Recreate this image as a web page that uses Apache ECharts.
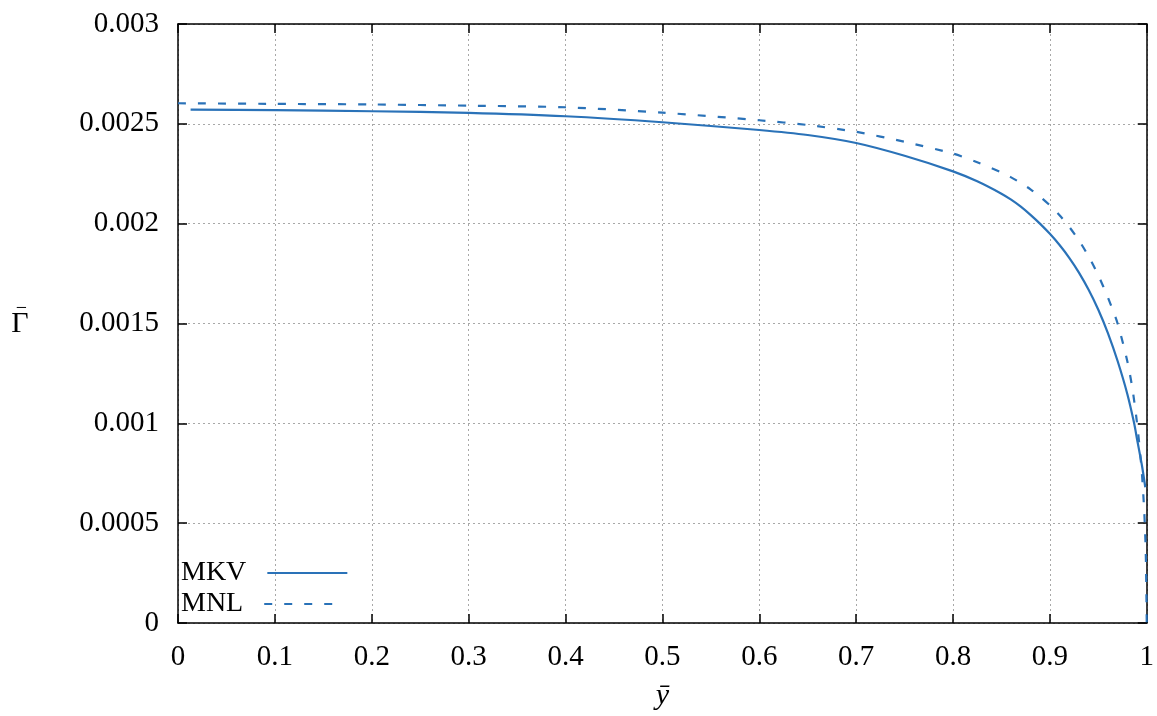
<!DOCTYPE html>
<html>
<head>
<meta charset="utf-8">
<script src="https://cdn.jsdelivr.net/npm/echarts@6/dist/echarts.min.js"></script>
<style>html,body{margin:0;padding:0;background:#fff}#c{width:1157px;height:716px}</style>
</head>
<body>
<div id="c"></div>
<script>
const seriesNames = ['MKV', 'MNL'];
const mkvX = [0.013, 0.1, 0.2, 0.3, 0.4, 0.5, 0.6, 0.65, 0.7, 0.75, 0.8, 0.825, 0.85, 0.86, 0.87, 0.88, 0.89, 0.9, 0.91, 0.92, 0.93, 0.94, 0.95, 0.96, 0.97, 0.98, 0.987, 0.99, 0.995, 0.9985];
const mkvY = [0.002571, 0.002569, 0.002563, 0.002555, 0.002538, 0.002508, 0.002469, 0.002444, 0.002404, 0.00234, 0.002262, 0.002212, 0.00215, 0.00212, 0.002085, 0.002044, 0.001999, 0.001949, 0.001893, 0.001829, 0.001755, 0.001669, 0.001569, 0.001451, 0.001311, 0.001146, 0.001, 0.00092, 0.00079, 0.00068];
const mnlX = [0, 0.1, 0.2, 0.3, 0.4, 0.5, 0.6, 0.65, 0.7, 0.75, 0.8, 0.825, 0.85, 0.86, 0.87, 0.88, 0.89, 0.9, 0.91, 0.92, 0.93, 0.94, 0.95, 0.96, 0.97, 0.98, 0.985, 0.989, 0.992, 0.995, 0.9975, 0.999, 1.0];
const mnlY = [0.002603, 0.0026, 0.002597, 0.002591, 0.002583, 0.002556, 0.002518, 0.002494, 0.00246, 0.00241, 0.002351, 0.002308, 0.002257, 0.002232, 0.002204, 0.002172, 0.002135, 0.002092, 0.002042, 0.001984, 0.001916, 0.001836, 0.001741, 0.001629, 0.001499, 0.00131, 0.00118, 0.00104, 0.00091, 0.00075, 0.00055, 0.00035, 0.0];
const xTickLabels = ['0', '0.1', '0.2', '0.3', '0.4', '0.5', '0.6', '0.7', '0.8', '0.9', '1'];
const yTickLabels = ['0', '0.0005', '0.001', '0.0015', '0.002', '0.0025', '0.003'];

const FONT = '"Liberation Serif", serif';
const COLOR = '#2a72b8';
const zip = (xs, ys) => xs.map((x, i) => [x, ys[i]]);

const chart = echarts.init(document.getElementById('c'), null, {renderer: 'canvas'});
const gridLine = {show: true, lineStyle: {color: '#a8a8a8', type: [2, 3], width: 1}};
const axisLine = {show: true, onZero: false, lineStyle: {color: '#000', width: 1.5}};
const tick = {show: true, inside: true, length: 9, lineStyle: {color: '#000', width: 1.5}};
const legendBase = {
  orient: 'vertical', left: 176, align: 'right', itemWidth: 80, itemHeight: 20, itemGap: 0,
  itemStyle: {opacity: 0},
  textStyle: {fontFamily: FONT, fontSize: 28, color: '#000', padding: [0, 16, 0, 0]}
};
chart.setOption({
  animation: false,
  backgroundColor: '#fff',
  grid: {left: 178, right: 7, top: 24, bottom: 91, containLabel: false},
  legend: [
    Object.assign({}, legendBase, {top: 554, data: [seriesNames[0]]}),
    Object.assign({}, legendBase, {top: 585, data: [seriesNames[1]]})
  ],
  xAxis: [{
    type: 'value', min: 0, max: 1, interval: 0.1, position: 'bottom',
    axisLine: axisLine, axisTick: tick, splitLine: gridLine,
    axisLabel: {fontFamily: FONT, fontSize: 29, color: '#000', margin: 20,
      formatter: v => xTickLabels[Math.round(v / 0.1)]},
    name: 'ȳ', nameLocation: 'middle', nameGap: 58,
    nameTextStyle: {fontFamily: FONT, fontSize: 30, fontStyle: 'italic', color: '#000'}
  }, {
    type: 'value', min: 0, max: 1, interval: 0.1, position: 'top',
    axisLine: axisLine, axisTick: tick, splitLine: {show: false}, axisLabel: {show: false}
  }],
  yAxis: [{
    type: 'value', min: 0, max: 0.003, interval: 0.0005, position: 'left',
    axisLine: axisLine, axisTick: tick, splitLine: gridLine,
    axisLabel: {fontFamily: FONT, fontSize: 29, color: '#000', margin: 19,
      formatter: v => yTickLabels[Math.round(v / 0.0005)]},
    name: '{m|−}\n{g|Γ}', nameLocation: 'middle', nameRotate: 0, nameGap: 158,
    nameTextStyle: {fontFamily: FONT, fontSize: 30, color: '#000', align: 'center',
      rich: {
        m: {fontFamily: FONT, fontSize: 20, lineHeight: 1, align: 'center', padding: [0, 0, 0, 3]},
        g: {fontFamily: FONT, fontSize: 30, lineHeight: 30, align: 'center'}
      }}
  }, {
    type: 'value', min: 0, max: 0.003, interval: 0.0005, position: 'right',
    axisLine: axisLine, axisTick: tick, splitLine: {show: false}, axisLabel: {show: false}
  }],
  series: [{
    name: seriesNames[0], type: 'line', data: zip(mkvX, mkvY), smooth: 0.25,
    showSymbol: false, symbol: 'none', color: COLOR,
    lineStyle: {color: COLOR, width: 2.2}
  }, {
    name: seriesNames[1], type: 'line', data: zip(mnlX, mnlY), smooth: 0.25,
    showSymbol: false, symbol: 'none', color: COLOR,
    lineStyle: {color: COLOR, width: 2.2, type: [8, 12]}
  }]
});
</script>
</body>
</html>
